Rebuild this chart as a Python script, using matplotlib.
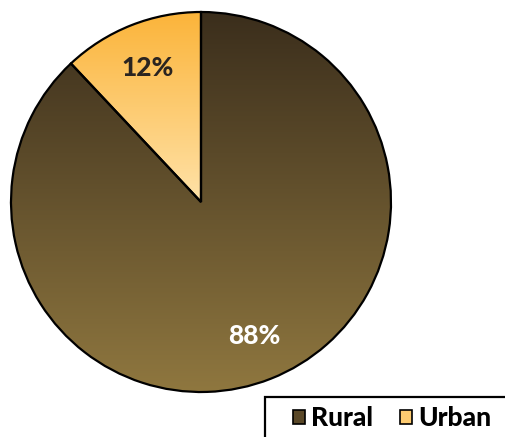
import numpy as np
import matplotlib.pyplot as plt
from matplotlib.colors import LinearSegmentedColormap
from matplotlib.patches import Rectangle

plt.rcParams['font.family'] = ['Lato', 'DejaVu Sans']

categories = ['Rural', 'Urban']
values = [88, 12]
# top / bottom gradient colours per slice
grad_colors = [('#3b2e1c', '#8f773f'), ('#fbb43a', '#ffe2a8')]
legend_colors = ['#5a4828', '#fdcb70']

fig = plt.figure(figsize=(5.06, 4.37), dpi=100)
ax = fig.add_axes([0, 0, 1, 1])

cx, cy, r = 201, 437 - 202, 190
wedges, texts, autotexts = ax.pie(values, center=(cx, cy), radius=r, startangle=90,
                                  counterclock=False, autopct='%d%%', pctdistance=0.76,
                                  frame=True,
                                  wedgeprops=dict(facecolor='none', edgecolor='black', linewidth=1.6))
ax.set_xlim(0, 506)
ax.set_ylim(0, 437)
ax.set_aspect('equal')
ax.axis('off')

grad = np.linspace(0, 1, 256).reshape(-1, 1)
for w, (top, bot) in zip(wedges, grad_colors):
    w.set_zorder(3)
    ext = w.get_path().get_extents(w.get_patch_transform())
    cmap = LinearSegmentedColormap.from_list('g', [top, bot])
    im = ax.imshow(grad, cmap=cmap, aspect='auto', origin='upper',
                   extent=[ext.x0, ext.x1, ext.y0, ext.y1], zorder=1)
    im.set_clip_path(w)

for t, c in zip(autotexts, ['white', '#2a2420']):
    t.set_color(c)
    t.set_fontsize(19)
    t.set_fontweight('black')
    t.set_zorder(5)

# legend box
fig.patches.append(Rectangle((265 / 506, -0.05), 0.6, (437 - 397) / 437 + 0.05,
                             transform=fig.transFigure, facecolor='white',
                             edgecolor='black', linewidth=1.6))
handles = [plt.Rectangle((0, 0), 1, 1, facecolor=c, edgecolor='black', linewidth=1.2)
           for c in legend_colors]
leg = fig.legend(handles, categories, ncol=2, frameon=False, loc='center left',
                 bbox_to_anchor=(293 / 506, 1 - 418 / 437), borderpad=0, borderaxespad=0,
                 handlelength=0.45, handleheight=0.45, handletextpad=0.25,
                 columnspacing=1.0, prop={'weight': 'black', 'size': 19})

fig.savefig('out.png', dpi=100)
